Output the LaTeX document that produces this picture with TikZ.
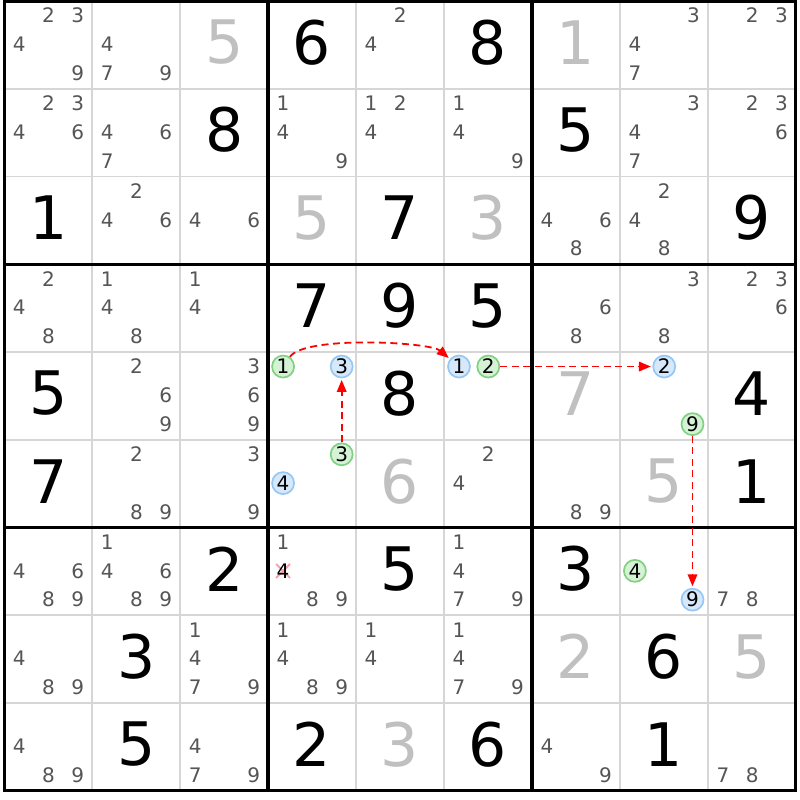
\documentclass[tikz,border=0pt]{standalone}
\usepackage{fontspec}
\setmainfont{DejaVu Sans}
\usetikzlibrary{arrows.meta}
\definecolor{pencil}{RGB}{85,85,85}
\definecolor{solved}{RGB}{192,192,192}
\definecolor{thingrid}{RGB}{214,214,214}
\definecolor{gfill}{RGB}{214,242,214}
\definecolor{gline}{RGB}{130,208,130}
\definecolor{bfill}{RGB}{214,232,250}
\definecolor{bline}{RGB}{150,200,245}
\definecolor{xpink}{RGB}{245,160,170}
\definecolor{arrowred}{RGB}{255,0,0}
\begin{document}
\begin{tikzpicture}[x=1pt,y=1pt,
  pm/.style={inner sep=0pt, text=pencil, font=\fontsize{20}{20}\selectfont},
  given/.style={inner sep=0pt, text=black, font=\fontsize{60}{60}\selectfont},
  solvedd/.style={given, text=solved},
  cand/.style={circle, inner sep=0pt, minimum size=22pt, line width=1.7pt, text=black, font=\fontsize{20}{20}\selectfont},
  gc/.style={cand, draw=gline, fill=gfill},
  bc/.style={cand, draw=bline, fill=bfill},
  link/.style={color=arrowred, line width=1.8pt, dash pattern=on 7pt off 4.5pt, shorten >=1.5pt, -{Triangle[length=12pt,width=9.5pt]}},
  thinline/.style={draw=thingrid, line width=1.8pt},
  thickline/.style={draw=black, line width=3.2pt},
  xmark/.style={draw=xpink, line width=1.8pt}
]
\useasboundingbox (0,0) rectangle (800,-800);
\fill[white] (0,0) rectangle (800,-800);
\def\xo{4.2}\def\cw{87.96}\def\yo{1}\def\ch{87.76}
% thin grid
\foreach \i in {1,2,4,5,7,8} {
  \draw[thinline] ({\xo+\i*\cw},{-\yo}) -- ({\xo+\i*\cw},{-\yo-9*\ch});
  \draw[thinline] ({\xo},{-\yo-\i*\ch}) -- ({\xo+9*\cw},{-\yo-\i*\ch});
}
% thick grid
\foreach \i in {3,6} {
  \draw[thickline] ({\xo+\i*\cw},{-\yo}) -- ({\xo+\i*\cw},{-\yo-9*\ch});
  \draw[thickline] ({\xo},{-\yo-\i*\ch}) -- ({\xo+9*\cw},{-\yo-\i*\ch});
}
\draw[thickline] ({\xo},{-\yo}) rectangle ({\xo+9*\cw},{-\yo-9*\ch});
% given digits
\foreach \r/\c/\v in {1/4/6,1/6/8,2/3/8,2/7/5,3/1/1,3/5/7,3/9/9,4/4/7,4/5/9,4/6/5,5/1/5,5/5/8,5/9/4,6/1/7,6/9/1,7/3/2,7/5/5,7/7/3,8/2/3,8/8/6,9/2/5,9/4/2,9/6/6,9/8/1}
  \node[given] (g\r\c) at ({\xo+(\c-0.5)*\cw},{-\yo-(\r-0.5)*\ch+2.5}) {\v};
% solved digits
\foreach \r/\c/\v in {1/3/5,1/7/1,3/4/5,3/6/3,5/7/7,6/5/6,6/8/5,8/7/2,8/9/5,9/5/3}
  \node[solvedd] (s\r\c) at ({\xo+(\c-0.5)*\cw},{-\yo-(\r-0.5)*\ch+2.5}) {\v};
% pencil marks
\foreach \r/\c/\ds in {1/1/{2,3,4,9},1/2/{4,7,9},1/5/{2,4},1/8/{3,4,7},1/9/{2,3},
  2/1/{2,3,4,6},2/2/{4,6,7},2/4/{1,4,9},2/5/{1,2,4},2/6/{1,4,9},2/8/{3,4,7},2/9/{2,3,6},
  3/2/{2,4,6},3/3/{4,6},3/7/{4,6,8},3/8/{2,4,8},
  4/1/{2,4,8},4/2/{1,4,8},4/3/{1,4},4/7/{6,8},4/8/{3,8},4/9/{2,3,6},
  5/2/{2,6,9},5/3/{3,6,9},
  6/2/{2,8,9},6/3/{3,9},6/6/{2,4},6/7/{8,9},
  7/1/{4,6,8,9},7/2/{1,4,6,8,9},7/4/{1,8,9},7/6/{1,4,7,9},7/9/{7,8},
  8/1/{4,8,9},8/3/{1,4,7,9},8/4/{1,4,8,9},8/5/{1,4},8/6/{1,4,7,9},
  9/1/{4,8,9},9/3/{4,7,9},9/7/{4,9},9/9/{7,8}} {
  \foreach \d in \ds {
    \pgfmathsetmacro\px{\xo+(\c-1)*\cw+15+29.3*mod(\d-1,3)}
    \pgfmathsetmacro\py{\yo+(\r-1)*\ch+14.5+28.8*floor((\d-1)/3)}
    \node[pm] (p\r\c\d) at (\px,-\py) {\d};
  }
}
% eliminated candidate
\draw[xmark] (276.1,-563.9) -- (290.1,-577.9);
\draw[xmark] (276.1,-577.9) -- (290.1,-563.9);
\node[pm, text=black] (p744) at (283.08,-570.86) {4};
% highlighted candidates
\node[gc] (c541) at (283.08,-366.54) {1};
\node[bc] (c543) at (341.68,-366.54) {3};
\node[bc] (c561) at (459.0,-366.54) {1};
\node[gc] (c562) at (488.3,-366.54) {2};
\node[bc] (c582) at (664.22,-366.54) {2};
\node[gc] (c589) at (692.5,-424.14) {9};
\node[gc] (c643) at (341.68,-454.3) {3};
\node[bc] (c644) at (283.08,-483.1) {4};
\node[gc] (c784) at (634.92,-570.86) {4};
\node[bc] (c789) at (692.5,-599.66) {9};
% links
\draw[link] (c541) to[out=55,in=140,looseness=0.42] (c561);
\draw[link] (c643) -- (c543);
\draw[link] (c562) -- (c582);
\draw[link] (c589) -- (c789);
\end{tikzpicture}
\end{document}
